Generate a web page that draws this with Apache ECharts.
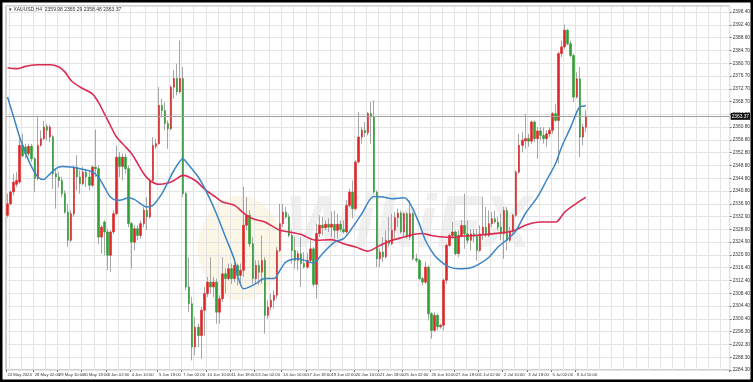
<!DOCTYPE html>
<html><head><meta charset="utf-8">
<script src="https://cdn.jsdelivr.net/npm/echarts@6/dist/echarts.min.js"></script>
<style>html,body{margin:0;padding:0;background:#fff;}#c{width:753px;height:382px;}</style>
</head><body><div id="c"></div>
<script>
const headerText = '\u25BE XAUUSD,H4  2359.98 2365.29 2358.48 2363.37';

const opens = [
2332.4,2336.0,2339.7,2342.1,2342.8,2354.3,2353.8,2351.7,2354.0,2350.1,
2343.9,2354.3,2356.4,2360.2,2356.9,2357.0,2345.4,2344.4,2343.3,2339.2,
2333.4,2324.6,2332.9,2347.5,2344.4,2342.3,2345.9,2344.4,2341.8,2347.5,
2347.0,2325.6,2330.3,2327.2,2319.9,2327.2,2332.9,2350.6,2347.7,2350.6,
2347.0,2329.8,2324.0,2328.2,2326.1,2329.8,2334.0,2331.9,2343.3,2354.0,
2354.8,2366.8,2365.2,2361.1,2359.5,2372.5,2375.2,2371.0,2375.2,2339.2,
2310.0,2304.7,2291.2,2297.4,2294.8,2302.7,2307.9,2311.5,2310.0,2311.5,
2302.1,2306.3,2314.1,2312.6,2315.7,2312.6,2316.7,2313.6,2315.2,2329.3,
2332.4,2323.5,2312.6,2316.7,2314.6,2318.3,2301.1,2303.7,2305.8,2307.4,
2321.4,2329.8,2333.4,2331.9,2326.1,2321.4,2318.3,2320.4,2317.3,2316.2,
2318.3,2321.9,2310.8,2326.7,2329.3,2328.5,2329.6,2328.7,2329.6,2327.7,
2329.6,2328.0,2327.2,2335.5,2339.7,2334.5,2349.1,2356.9,2359.0,2358.2,
2364.2,2363.2,2339.7,2318.8,2320.9,2319.4,2324.6,2323.5,2327.7,2331.7,
2333.1,2327.2,2332.9,2325.6,2332.9,2318.8,2318.3,2312.6,2311.5,2316.2,
2301.6,2296.4,2301.1,2297.5,2298.0,2312.1,2323.0,2326.1,2327.2,2320.4,
2326.1,2329.2,2326.6,2324.6,2326.6,2325.8,2321.4,2326.6,2328.7,2326.1,
2329.8,2331.3,2330.3,2328.7,2326.6,2333.9,2324.6,2327.5,2332.4,2345.9,
2354.3,2355.7,2356.4,2355.6,2361.6,2356.4,2358.8,2357.4,2356.4,2357.9,
2359.0,2364.2,2362.1,2383.0,2385.1,2390.3,2386.1,2382.4,2369.4,2375.1,
2356.9,2359.98];

const closes = [
2336.0,2339.7,2342.8,2343.3,2354.3,2351.0,2351.7,2354.0,2350.1,2343.9,
2354.3,2356.4,2360.0,2359.0,2360.0,2345.4,2344.4,2343.3,2339.2,2333.4,
2324.6,2332.9,2347.5,2344.4,2342.3,2345.9,2344.4,2341.8,2347.5,2347.0,
2325.6,2328.7,2327.2,2319.9,2327.2,2332.9,2350.6,2347.7,2350.6,2347.0,
2329.8,2324.0,2328.2,2326.1,2329.8,2334.0,2331.9,2343.3,2354.3,2354.8,
2366.8,2365.2,2361.1,2359.5,2372.5,2375.2,2371.0,2375.2,2339.2,2310.0,
2304.7,2291.2,2297.4,2294.8,2302.7,2307.9,2311.5,2310.0,2311.5,2302.1,
2306.3,2314.1,2312.6,2315.7,2312.6,2316.7,2313.6,2315.2,2329.3,2332.4,
2323.5,2312.6,2316.7,2314.6,2318.3,2301.1,2303.7,2305.8,2307.4,2321.4,
2329.8,2333.4,2331.9,2326.1,2321.4,2318.3,2320.4,2317.3,2316.2,2318.3,
2321.9,2310.8,2326.7,2329.3,2328.5,2329.6,2328.7,2329.6,2327.7,2329.6,
2328.0,2327.2,2335.5,2339.7,2334.5,2349.1,2356.9,2359.0,2358.2,2364.2,
2363.2,2339.7,2318.8,2320.9,2319.4,2324.6,2323.5,2327.7,2331.7,2333.1,
2327.2,2332.9,2325.6,2332.9,2318.8,2318.3,2312.6,2311.5,2316.2,2301.6,
2296.4,2301.1,2297.5,2298.0,2312.1,2323.0,2326.1,2327.2,2320.4,2326.1,
2329.2,2326.6,2324.6,2326.6,2325.8,2321.4,2326.6,2328.7,2326.1,2329.8,
2331.3,2330.3,2328.7,2326.6,2333.9,2324.6,2327.5,2332.4,2345.9,2354.3,
2355.9,2356.4,2355.6,2361.6,2356.4,2358.8,2357.4,2356.4,2357.9,2359.0,
2364.2,2362.1,2383.0,2385.1,2390.3,2386.1,2382.4,2369.4,2375.1,2356.9,
2360.0,2363.37];

const lows = [
2331.7,2335.5,2338.6,2341.2,2342.3,2350.6,2350.1,2350.8,2349.1,2339.7,
2343.3,2353.8,2355.9,2355.9,2355.3,2340.7,2334.5,2341.2,2338.1,2332.9,
2322.5,2324.0,2331.9,2340.2,2339.2,2341.8,2341.2,2340.2,2341.2,2344.4,
2323.5,2320.4,2319.9,2315.2,2314.7,2326.6,2332.4,2344.4,2343.3,2345.4,
2328.7,2315.7,2321.4,2324.6,2325.1,2328.7,2327.7,2331.3,2342.8,2353.2,
2354.5,2363.2,2359.0,2353.2,2359.0,2368.9,2369.9,2370.5,2338.1,2308.9,
2302.1,2287.0,2288.6,2291.2,2287.5,2294.8,2306.8,2307.9,2306.8,2298.5,
2298.5,2305.3,2307.9,2312.0,2311.0,2311.5,2310.5,2311.0,2313.1,2327.7,
2322.5,2311.0,2311.0,2310.5,2311.0,2295.4,2300.0,2302.7,2303.2,2306.3,
2320.9,2328.7,2331.3,2325.6,2317.3,2315.7,2315.2,2310.0,2315.7,2315.7,
2317.5,2310.0,2306.3,2325.6,2326.1,2327.7,2327.2,2325.6,2325.1,2325.1,
2327.2,2326.7,2326.7,2335.0,2331.4,2333.9,2348.6,2354.8,2356.9,2357.4,
2354.8,2339.2,2316.2,2316.2,2317.8,2318.8,2322.5,2323.0,2325.1,2328.7,
2326.7,2325.6,2325.1,2324.6,2318.3,2317.5,2312.0,2310.5,2311.0,2299.5,
2293.8,2295.9,2296.4,2296.9,2296.4,2311.0,2322.5,2325.1,2319.9,2319.3,
2325.6,2321.9,2323.5,2321.4,2324.0,2318.3,2320.9,2324.6,2325.6,2325.6,
2328.7,2329.8,2327.7,2324.6,2318.8,2321.4,2324.0,2326.6,2331.9,2345.4,
2352.2,2353.2,2353.8,2354.8,2355.3,2350.1,2355.9,2354.8,2353.8,2356.9,
2357.9,2361.6,2348.6,2381.9,2384.5,2385.6,2381.9,2367.8,2368.9,2350.6,
2354.3,2358.48];

const highs = [
2339.2,2340.2,2345.4,2345.9,2356.9,2357.9,2354.8,2354.8,2354.8,2350.6,
2363.4,2359.0,2361.9,2361.1,2360.8,2357.5,2347.0,2345.9,2344.4,2340.2,
2336.0,2334.0,2348.0,2351.2,2346.5,2347.5,2347.0,2346.5,2348.0,2359.2,
2348.0,2329.3,2330.8,2328.2,2327.7,2334.0,2354.3,2352.2,2351.7,2351.7,
2348.0,2330.3,2329.3,2329.3,2330.8,2335.0,2338.1,2343.9,2356.9,2356.4,
2372.5,2368.9,2367.8,2362.1,2373.1,2377.8,2379.8,2387.1,2378.8,2339.7,
2319.3,2306.8,2300.6,2298.5,2303.7,2310.0,2313.1,2319.3,2313.1,2312.6,
2307.4,2319.3,2315.7,2317.3,2317.3,2318.3,2317.3,2317.3,2341.3,2338.1,
2334.0,2325.6,2318.3,2318.3,2326.1,2319.3,2305.8,2307.9,2308.9,2322.5,
2336.0,2336.0,2335.0,2332.9,2327.7,2325.6,2321.4,2325.6,2320.9,2320.5,
2324.6,2322.5,2329.8,2332.4,2331.9,2330.8,2331.4,2333.4,2333.9,2332.9,
2330.8,2330.8,2337.1,2340.7,2343.3,2349.6,2364.7,2360.0,2361.6,2364.7,
2367.9,2368.4,2340.2,2322.0,2325.6,2327.7,2331.9,2332.9,2333.4,2334.5,
2333.9,2333.4,2333.4,2337.1,2333.4,2320.4,2318.8,2313.1,2317.8,2316.7,
2302.1,2302.1,2301.6,2298.5,2312.6,2323.5,2326.7,2330.3,2327.7,2327.7,
2330.8,2339.2,2330.8,2328.2,2328.2,2328.2,2329.3,2338.1,2335.0,2333.9,
2333.4,2333.9,2331.9,2332.9,2335.0,2335.0,2328.7,2332.9,2346.5,2357.9,
2358.5,2364.2,2357.9,2362.1,2362.1,2360.0,2360.0,2360.0,2359.0,2360.0,
2364.7,2367.3,2383.5,2387.1,2392.1,2390.8,2387.1,2383.0,2377.2,2378.8,
2361.1,2365.29];

// slow moving average (red), read at sampled bars
const slowMaIndex = [0,3,6,10,14,17,19,21,24,28,30,32,34,36,39,41,43,45,47,50,53,55,58,62,65,68,71,75,78,81,85,88,90,93,97,99,102,107,111,115,119,123,127,131,134,137,140,144,147,150,154,160,167,171,176,181,184,188,191];
const slowMaValue = [2378.6,2378.3,2379.0,2379.5,2379.5,2378.8,2377.2,2374.6,2372.5,2370.4,2367.8,2364.2,2360.5,2356.9,2353.8,2351.7,2348.6,2345.4,2343.3,2342.1,2342.5,2343.3,2344.9,2343.3,2340.7,2338.6,2336.6,2335.5,2333.1,2331.3,2330.3,2328.7,2327.7,2327.2,2326.4,2325.5,2324.6,2324.8,2323.5,2322.5,2321.2,2323.0,2324.6,2325.6,2326.4,2326.7,2326.1,2325.6,2325.5,2325.9,2326.1,2326.6,2327.5,2329.3,2330.3,2330.3,2333.4,2336.2,2338.1];

// fast moving average (blue), read at sampled bars
const fastMaIndex = [0,2,4,6,8,10,12,13,16,18,21,24,28,30,32,34,36,38,40,42,44,46,48,51,53,55,58,59,63,66,69,72,75,76,78,80,82,85,88,90,92,96,98,101,104,108,111,114,117,121,124,127,131,133,136,138,141,144,146,149,153,156,159,162,166,168,171,175,178,181,183,186,188,189,191];
const fastMaValue = [2369.4,2363.2,2356.9,2351.7,2347.5,2344.4,2343.6,2344.4,2347.0,2347.7,2347.5,2347.0,2346.0,2344.4,2341.2,2338.1,2337.1,2337.3,2337.9,2337.3,2336.0,2335.0,2335.5,2339.2,2342.8,2346.5,2350.1,2349.1,2344.4,2339.2,2332.9,2325.6,2318.3,2313.5,2309.4,2310.0,2311.0,2312.6,2312.6,2315.2,2317.8,2318.8,2318.3,2317.5,2320.4,2324.0,2325.1,2328.7,2332.9,2338.3,2338.1,2337.6,2337.9,2336.0,2329.8,2324.6,2319.9,2317.3,2316.2,2315.7,2316.0,2317.3,2319.3,2322.5,2325.6,2327.7,2332.9,2338.1,2343.3,2348.6,2353.8,2360.0,2364.7,2366.3,2366.7];

const xTickIndex = [0,9,17,25,33,41,50,58,66,74,82,91,99,107,115,123,131,140,148,156,164,172,180,188];
const xTickLabels = ['24 May 2024','28 May 02:00','29 May 10:00','30 May 18:00','3 Jun 02:00','4 Jun 10:00','5 Jun 18:00','7 Jun 02:00','10 Jun 10:00','11 Jun 18:00','13 Jun 02:00','14 Jun 10:00','17 Jun 18:00','19 Jun 02:00','20 Jun 10:00','21 Jun 18:00','25 Jun 02:00','26 Jun 10:00','27 Jun 18:00','1 Jul 02:00','2 Jul 10:00','3 Jul 18:00','5 Jul 02:00','8 Jul 10:00'];

// price-axis: first tick and step, with the label text read for each tick (bottom to top)
const yFirstTick = 2284;
const yStep = 4;
const yTickLabels = ['2284.30','2288.30','2292.30','2296.30','2300.40','2304.40','2308.40','2312.40','2316.40','2320.90','2324.90','2328.90','2332.90','2336.90','2340.80','2344.80','2348.80','2352.80','2356.80','2360.80','2364.80','2368.70','2372.70','2376.70','2380.70','2384.70','2388.60','2392.40','2396.40'];

const totalSlots = 239; // bar slots incl. empty right shift area
const cats = Array.from({length: totalSlots}, (_, i) => String(i));

const tickSet = new Set(xTickIndex);
const labelMap = {};
xTickIndex.forEach((k, j) => labelMap[k] = xTickLabels[j]);
const gridSet = new Set();
for (let k = 1; k < xTickIndex.length; k++) {
  gridSet.add(xTickIndex[k]);
  if (k > 1) gridSet.add(Math.round((xTickIndex[k-1] + xTickIndex[k]) / 2));
}
for (let v = xTickIndex[1] - 4; v > 0; v -= 4) gridSet.add(v);
for (let v = xTickIndex[xTickIndex.length-1] + 4; v < totalSlots; v += 4) gridSet.add(v);

const wickData = opens.map((o, i) => [o, closes[i], lows[i], highs[i]]);
const bodyData = opens.map((o, i) => [o, closes[i], Math.min(o, closes[i]), Math.max(o, closes[i])]);

function sparse(idx, val) {
  const arr = new Array(totalSlots).fill(null);
  idx.forEach((k, j) => arr[k] = val[j]);
  return arr;
}

const chart = echarts.init(document.getElementById('c'), null, {renderer: 'canvas'});
const font = 'Liberation Sans';
chart.setOption({
  animation: false,
  backgroundColor: '#ffffff',
  grid: {left: 6, right: 20, top: 6, bottom: 12, show: true, borderColor: '#a0a0a0', borderWidth: 1, backgroundColor: '#fff'},
  xAxis: {
    type: 'category', data: cats, boundaryGap: true,
    axisLine: {show: false},
    axisTick: {show: true, interval: (i) => tickSet.has(i), length: 2, lineStyle: {color: '#777'}},
    axisLabel: {interval: (i) => tickSet.has(i), formatter: (v, i) => labelMap[i] || '', fontSize: 4.2, color: '#333', align: 'left', margin: 3, fontFamily: font},
    splitLine: {show: true, interval: (i) => gridSet.has(i), lineStyle: {color: '#e4e4e4', width: 1}}
  },
  yAxis: {
    type: 'value', position: 'right', min: yFirstTick, max: 2397.9, interval: yStep,
    axisLine: {show: false},
    axisTick: {show: true, length: 2, lineStyle: {color: '#777'}},
    axisLabel: {
      fontSize: 4.8, color: '#333', margin: 3, fontFamily: font, showMinLabel: true, showMaxLabel: false,
      formatter: (v) => {
        const k = Math.round((v - yFirstTick) / yStep);
        if (Math.abs(v - (yFirstTick + yStep * k)) > 0.01) return '';
        return yTickLabels[k] || '';
      }
    },
    splitLine: {show: true, lineStyle: {color: '#e4e4e4', width: 1}}
  },
  graphic: [
    {type: 'text', z: 0, left: 285, top: 190, style: {text: 'WikiFX', fontSize: 74, fontWeight: 'bold', fontStyle: 'italic', fontFamily: font, fill: 'rgba(0,0,0,0.06)'}},
    {type: 'ellipse', z: 0, shape: {cx: 240, cy: 248, rx: 42, ry: 52}, style: {fill: 'rgba(236,196,100,0.16)'}},
    {type: 'text', z: 10, left: 9, top: 7, style: {text: headerText, fontSize: 5, fontFamily: font, fill: '#333'}},
    {type: 'rect', z: 20, shape: {x: 1.25, y: 1.25, width: 750.5, height: 379.5}, style: {fill: 'none', stroke: '#000', lineWidth: 2.5}}
  ],
  series: [
    {
      name: 'wick', type: 'candlestick', data: wickData, barWidth: 1, z: 2,
      itemStyle: {color: '#a6a6a6', color0: '#a6a6a6', borderColor: '#a6a6a6', borderColor0: '#a6a6a6', borderColorDoji: '#a6a6a6', borderWidth: 1}
    },
    {
      name: 'XAUUSD', type: 'candlestick', data: bodyData, barWidth: 2, z: 3,
      itemStyle: {color: '#de2629', color0: '#2e9e35', borderColor: '#de2629', borderColor0: '#2e9e35', borderColorDoji: '#de2629', borderWidth: 0.6},
      markLine: {
        silent: true, symbol: ['none', 'none'], animation: false,
        data: [{yAxis: closes[closes.length - 1]}],
        lineStyle: {color: '#a0a0a0', width: 1, type: 'solid'},
        label: {show: true, position: 'end', distance: 1, formatter: (p) => Number(p.value).toFixed(2), backgroundColor: '#111', color: '#fff', fontSize: 4.8, fontFamily: font, padding: [1, 1]}
      }
    },
    {
      name: 'MA slow', type: 'line', data: sparse(slowMaIndex, slowMaValue), connectNulls: true, smooth: 0.3,
      symbol: 'none', z: 4, lineStyle: {color: '#dc2a52', width: 1.6}
    },
    {
      name: 'MA fast', type: 'line', data: sparse(fastMaIndex, fastMaValue), connectNulls: true, smooth: 0.3,
      symbol: 'none', z: 5, lineStyle: {color: '#3b85c6', width: 1.5}
    }
  ]
});
</script></body></html>
